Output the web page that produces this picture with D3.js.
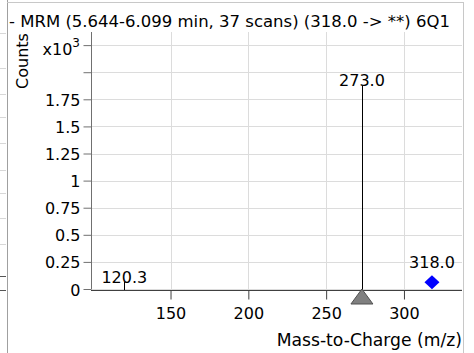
<!DOCTYPE html>
<html><head><meta charset="utf-8">
<script src="https://cdn.jsdelivr.net/npm/d3@7"></script>
<style>
html,body{margin:0;padding:0;background:#fff;}
svg{display:block;font-family:"DejaVu Sans",Verdana,sans-serif;}
</style></head>
<body><svg id="c" width="474" height="353"></svg>
<script>
// ---- data ----
const titleText = "- MRM (5.644-6.099 min, 37 scans) (318.0 -> **) 6Q1";
const peakMz = [120.3, 273.0];
const peakCounts = [65, 1880];
const peakLabels = ["120.3", "273.0"];
const precursorMz = [318.0];
const precursorCounts = [62];
const precursorLabels = ["318.0"];
const productMz = [273.0];
const xTicks = [150, 200, 250, 300];
const xTickLabels = ["150", "200", "250", "300"];
const yTicks = [0, 250, 500, 750, 1000, 1250, 1500, 1750, 2000, 2250];
const yTickLabels = ["0", "0.25", "0.5", "0.75", "1", "1.25", "1.5", "1.75", "", ""];
const xDomain = [98.9, 337.3];
const yDomain = [0, 2371];
const neighbourGridY = [33, 68, 94, 117, 143, 170, 193, 218, 244];
const neighbourTickY = [276, 290];

// ---- layout ----
const svg = d3.select("#c");
const L = 91, R = 462, T = 32, B = 289;
const FS = 16;
const x = d3.scaleLinear().domain(xDomain).range([L, R]);
const y = d3.scaleLinear().domain(yDomain).range([B, T]);

// neighbouring panel remnants on far left
svg.selectAll("line.ng").data(neighbourGridY).join("line")
  .attr("x1", 0).attr("x2", 6).attr("y1", d => d + 0.5).attr("y2", d => d + 0.5)
  .attr("stroke", "#d8d8d8");
svg.selectAll("line.nt").data(neighbourTickY).join("line")
  .attr("x1", 0).attr("x2", 6).attr("y1", d => d + 0.5).attr("y2", d => d + 0.5)
  .attr("stroke", "#555");

// panel border
svg.append("line").attr("x1", 7.5).attr("x2", 7.5).attr("y1", 0).attr("y2", 353).attr("stroke", "#a0a0a0");
svg.append("line").attr("x1", 7).attr("x2", 463).attr("y1", 2.5).attr("y2", 2.5).attr("stroke", "#c8c8c8");
svg.append("line").attr("x1", 463.5).attr("x2", 463.5).attr("y1", 2).attr("y2", 353).attr("stroke", "#c8c8c8");

// clip for title
svg.append("clipPath").attr("id", "tc").append("rect").attr("x", 8).attr("y", 0).attr("width", 454).attr("height", 40);
svg.append("text").attr("clip-path", "url(#tc)")
  .attr("x", 9).attr("y", 27).attr("font-size", 16.5).attr("fill", "#000").text(titleText);

// gridlines
const gx = svg.append("g");
gx.selectAll("line.vg").data(xTicks).join("line")
  .attr("x1", d => Math.round(x(d)) + 0.5).attr("x2", d => Math.round(x(d)) + 0.5)
  .attr("y1", T).attr("y2", B).attr("stroke", "#dcdcdc");
gx.selectAll("line.hg").data(yTicks).join("line")
  .attr("y1", d => Math.round(y(d)) + 0.5).attr("y2", d => Math.round(y(d)) + 0.5)
  .attr("x1", L).attr("x2", R).attr("stroke", "#dcdcdc");

// y axis
const yAxis = d3.axisLeft(y).tickValues(yTicks).tickSize(8).tickPadding(3)
  .tickFormat((d, i) => yTickLabels[i]);
const ya = svg.append("g").attr("transform", `translate(${L + 0.5},0)`).call(yAxis);
ya.select(".domain").attr("stroke", "#707070").attr("d", `M0,${T}V${B}`);
ya.selectAll(".tick line").attr("stroke", "#707070");
ya.selectAll(".tick text").attr("font-size", FS).attr("font-family", "DejaVu Sans").attr("fill", "#000").attr("dy", "0.38em");

// x10^3 label
const xl = svg.append("text").attr("x", 80).attr("y", Math.round(y(2250)) + 10)
  .attr("text-anchor", "end").attr("font-size", FS).attr("fill", "#000");
xl.append("tspan").text("x10");
xl.append("tspan").attr("dy", -8).attr("font-size", 12).text("3");

// x axis
const xAxis = d3.axisBottom(x).tickValues(xTicks).tickSize(9).tickPadding(8)
  .tickFormat((d, i) => xTickLabels[i]);
const xa = svg.append("g").attr("transform", `translate(0,${B + 1.5})`).call(xAxis);
xa.select(".domain").attr("stroke", "#404040").attr("d", `M${L},0H${R}`);
xa.selectAll(".tick line").attr("stroke", "#404040");
xa.selectAll(".tick text").attr("font-size", FS).attr("font-family", "DejaVu Sans").attr("fill", "#000");

// axis titles
svg.append("text").attr("transform", "translate(27.5,61) rotate(-90)")
  .attr("text-anchor", "middle").attr("font-size", FS).attr("fill", "#000").text("Counts");
svg.append("text").attr("x", 462).attr("y", 346).attr("text-anchor", "end")
  .attr("font-size", 17.2).attr("fill", "#000").text("Mass-to-Charge (m/z)");

// peaks (sticks)
svg.selectAll("line.pk").data(peakMz).join("line")
  .attr("x1", d => Math.round(x(d)) + 0.5).attr("x2", d => Math.round(x(d)) + 0.5)
  .attr("y1", B + 1).attr("y2", (d, i) => y(peakCounts[i]))
  .attr("stroke", "#000").attr("stroke-width", 1);

// product marker triangle
svg.selectAll("path.tri").data(productMz).join("path")
  .attr("d", d => { const cx = x(d); return `M${cx},${B}L${cx + 11},${B + 15}L${cx - 11},${B + 15}Z`; })
  .attr("fill", "#808080").attr("stroke", "#505050").attr("stroke-width", 1);

// peak labels
svg.selectAll("text.pl").data(peakMz).join("text")
  .attr("x", d => x(d)).attr("y", (d, i) => y(peakCounts[i]) + 1)
  .attr("text-anchor", "middle").attr("font-size", FS).attr("fill", "#000")
  .text((d, i) => peakLabels[i]);

// precursor diamond
svg.selectAll("path.dia").data(precursorMz).join("path")
  .attr("d", (d, i) => { const cx = x(d), cy = y(precursorCounts[i]); return `M${cx},${cy - 7}L${cx + 7.5},${cy}L${cx},${cy + 7}L${cx - 7.5},${cy}Z`; })
  .attr("fill", "#0000ff");
svg.selectAll("text.prl").data(precursorMz).join("text")
  .attr("x", d => x(d)).attr("y", (d, i) => y(precursorCounts[i]) - 14)
  .attr("text-anchor", "middle").attr("font-size", FS).attr("fill", "#000")
  .text((d, i) => precursorLabels[i]);
</script></body></html>
